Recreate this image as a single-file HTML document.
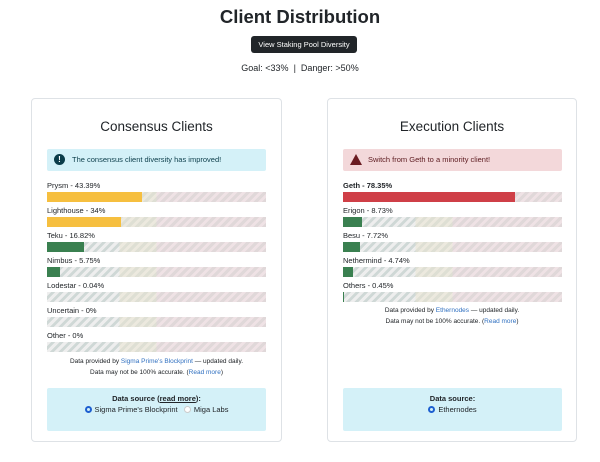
<!DOCTYPE html>
<html><head><style>
*{box-sizing:border-box;margin:0;padding:0}
body{width:600px;height:462px;background:#fff;font-family:"Liberation Sans",sans-serif;color:#212529;position:relative;overflow:hidden}
.abs{position:absolute}
h1{position:absolute;top:6px;left:0;width:600px;text-align:center;font-size:18.5px;font-weight:bold}
.btn{left:251px;top:36px;width:106px;height:17px;background:#212529;color:#fff;font-size:7.5px;border-radius:3px;text-align:center;line-height:17px}
.goal{top:63px;left:0;width:600px;text-align:center;font-size:9px}
.card{top:98px;width:251px;height:344px;border:1px solid #dee2e6;border-radius:4px}
.ct{top:20px;left:0;width:100%;text-align:center;font-size:13.5px}
.alert{top:50px;left:15px;width:219px;height:22px;font-size:7.5px;line-height:22px;padding-left:25px;border-radius:2px}
.row{left:15px;width:219px}
.lab{font-size:7.5px;height:12px;line-height:12px}
.track{height:10px;width:219px;position:relative;margin-bottom:3px;background:
linear-gradient(to right,transparent 0,transparent 33%,rgba(235,229,210,.55) 33%,rgba(235,229,210,.55) 50%,rgba(240,215,220,.5) 50%),
repeating-linear-gradient(-45deg,#cfd8d6 0 3px,#eeeeee 3px 6px)}
.fill{position:absolute;left:0;top:0;height:10px}
.foot{left:0;width:100%;text-align:center;font-size:6.5px;line-height:11px}
a{color:#3070c0}
.ds{left:15px;width:219px;height:43px;top:289px;background:#d4f1f8;border-radius:2px;text-align:center;font-size:7.5px;padding-top:5px;line-height:11px}
.radio{display:inline-block;width:7px;height:7px;border-radius:50%;vertical-align:-1px;margin-right:3px}
</style></head><body>
<h1>Client Distribution</h1>
<div class="abs btn">View Staking Pool Diversity</div>
<div class="abs goal">Goal: &lt;33% &nbsp;| &nbsp;Danger: &gt;50%</div>

<div class="abs card" style="left:31px">
<div class="abs ct">Consensus Clients</div>
<div class="abs alert" style="background:#d4f1f8;color:#0b3d4a"><span class="abs" style="left:7px;top:5px;width:11px;height:11px;border-radius:50%;background:#0b3d4a;color:#fff;font-size:8px;line-height:11px;text-align:center;font-weight:bold">!</span>The consensus client diversity has improved!</div>
<div class="abs row" style="top:81px">
<div class="lab">Prysm - 43.39%</div><div class="track"><div class="fill" style="width:43.39%;background:#f6bf3f"></div></div>
<div class="lab">Lighthouse - 34%</div><div class="track"><div class="fill" style="width:34%;background:#f6bf3f"></div></div>
<div class="lab">Teku - 16.82%</div><div class="track"><div class="fill" style="width:16.82%;background:#3a8050"></div></div>
<div class="lab">Nimbus - 5.75%</div><div class="track"><div class="fill" style="width:5.75%;background:#3a8050"></div></div>
<div class="lab">Lodestar - 0.04%</div><div class="track"></div>
<div class="lab">Uncertain - 0%</div><div class="track"></div>
<div class="lab">Other - 0%</div><div class="track"></div>
</div>
<div class="abs foot" style="top:257px">Data provided by <a>Sigma Prime's Blockprint</a> — updated daily.<br>Data may not be 100% accurate. (<a>Read more</a>)</div>
<div class="abs ds"><b>Data source (<u>read more</u>):</b><br><span class="radio" style="border:2px solid #1d5fd0"></span>Sigma Prime's Blockprint &nbsp; <span class="radio" style="border:1px solid #ccc;background:#fff"></span>Miga Labs</div>
</div>

<div class="abs card" style="left:327px;width:250px">
<div class="abs ct">Execution Clients</div>
<div class="abs alert" style="background:#f3d8da;color:#5c1a1f"><span class="abs" style="left:7px;top:5px;width:0;height:0;border-left:6px solid transparent;border-right:6px solid transparent;border-bottom:11px solid #6a1c22"></span>Switch from Geth to a minority client!</div>
<div class="abs row" style="top:81px">
<div class="lab"><b>Geth - 78.35%</b></div><div class="track"><div class="fill" style="width:78.35%;background:#cf3f47"></div></div>
<div class="lab">Erigon - 8.73%</div><div class="track"><div class="fill" style="width:8.73%;background:#3a8050"></div></div>
<div class="lab">Besu - 7.72%</div><div class="track"><div class="fill" style="width:7.72%;background:#3a8050"></div></div>
<div class="lab">Nethermind - 4.74%</div><div class="track"><div class="fill" style="width:4.74%;background:#3a8050"></div></div>
<div class="lab">Others - 0.45%</div><div class="track"><div class="fill" style="width:0.45%;background:#3a8050"></div></div>
</div>
<div class="abs foot" style="top:206px">Data provided by <a>Ethernodes</a> — updated daily.<br>Data may not be 100% accurate. (<a>Read more</a>)</div>
<div class="abs ds"><b>Data source:</b><br><span class="radio" style="border:2px solid #1d5fd0"></span>Ethernodes</div>
</div>
</body></html>
